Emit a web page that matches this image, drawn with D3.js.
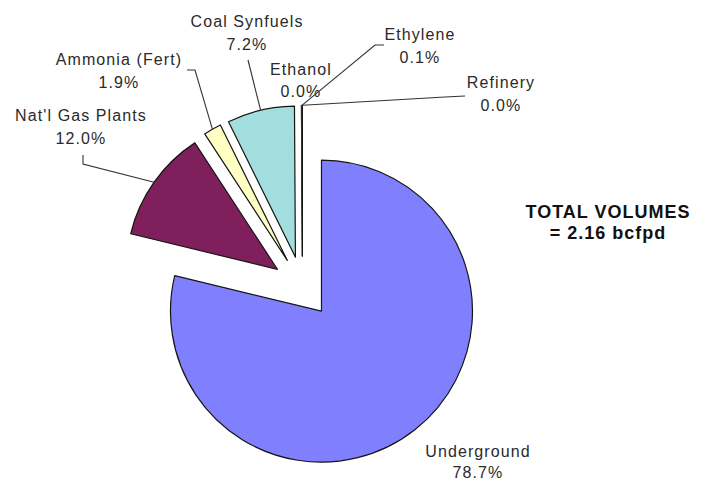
<!DOCTYPE html>
<html>
<head>
<meta charset="utf-8">
<script src="https://cdn.jsdelivr.net/npm/d3@7/dist/d3.min.js"></script>
<style>
  html, body { margin: 0; padding: 0; background: #fff; }
  svg { display: block; }
  .lbl { font-family: "Liberation Sans", Arial, sans-serif; font-size: 16px; letter-spacing: 1.1px; fill: #2a2a2a; }
  .total { font-family: "Liberation Sans", Arial, sans-serif; font-size: 18px; font-weight: bold; letter-spacing: 1px; fill: #111; }
</style>
</head>
<body>
<svg id="chart" width="704" height="481"></svg>
<script>
// Gas consumption by end use, share of total (%)
const categories = ["Underground", "Nat'l Gas Plants", "Ammonia (Fert)", "Coal Synfuels", "Ethanol", "Ethylene", "Refinery"];
const shares = [78.7, 12.0, 1.9, 7.2, 0.0, 0.1, 0.0];
const totalLines = ["TOTAL VOLUMES", "= 2.16 bcfpd"];

const sliceColors = ["#8080FF", "#7F1F5C", "#FFFFC4", "#A2DEDE", "#FFFFFF", "#FFFFFF", "#FFFFFF"];

const data = categories.map((name, i) => ({ name, v: shares[i] }));

const W = 704, H = 481;
const cx = 302.5, cy = 287, R = 151, explode = 30.7;

// label anchors (x centre, first baseline, line gap) and leader bend points
const layout = {
  "Underground":      { x: 478, y: 457, gap: 21, bends: null },
  "Nat'l Gas Plants": { x: 81,  y: 121, gap: 23, bends: [[83, 164], [83, 155]] },
  "Ammonia (Fert)":   { x: 119, y: 65,  gap: 23, bends: [[195, 70], [187, 70]] },
  "Coal Synfuels":    { x: 247, y: 27,  gap: 23, bends: [[248, 60]] },
  "Ethanol":          { x: 301, y: 75,  gap: 22, bends: null },
  "Ethylene":         { x: 420, y: 40,  gap: 23, bends: [[375, 45], [384, 45]] },
  "Refinery":         { x: 501, y: 88,  gap: 23, bends: [[445, 97], [465, 96]] }
};

const svg = d3.select("#chart");
const color = d3.scaleOrdinal().domain(categories).range(sliceColors);

const pie = d3.pie().sort(null).value(d => d.v);
const arc = d3.arc().innerRadius(0).outerRadius(R);
const arcs = pie(data);

arcs.forEach(a => {
  const m = (a.startAngle + a.endAngle) / 2;
  const dx = Math.sin(m), dy = -Math.cos(m);
  a.ox = cx + dx * explode;
  a.oy = cy + dy * explode;
  a.edge = [a.ox + dx * R, a.oy + dy * R];
});

// exploded slices
svg.append("g")
  .selectAll("path")
  .data(arcs)
  .join("path")
  .attr("transform", d => `translate(${d.ox},${d.oy})`)
  .attr("d", arc)
  .attr("fill", d => color(d.data.name))
  .attr("stroke", "#151515")
  .attr("stroke-width", d => d.data.v < 1 ? 0.8 : 1.2)
  .attr("stroke-linejoin", "round");

// leader lines
const line = d3.line();
svg.append("g")
  .selectAll("path")
  .data(arcs.filter(d => layout[d.data.name].bends))
  .join("path")
  .attr("d", d => line([d.edge, ...layout[d.data.name].bends]))
  .attr("fill", "none")
  .attr("stroke", "#333")
  .attr("stroke-width", 1.1);

// category labels with percentages
const labels = svg.append("g")
  .selectAll("text")
  .data(arcs)
  .join("text")
  .attr("class", "lbl")
  .attr("text-anchor", "middle");

labels.append("tspan")
  .attr("x", d => layout[d.data.name].x)
  .attr("y", d => layout[d.data.name].y)
  .text(d => d.data.name);

labels.append("tspan")
  .attr("x", d => layout[d.data.name].x)
  .attr("y", d => layout[d.data.name].y + layout[d.data.name].gap)
  .text(d => d.data.v.toFixed(1) + "%");

// total volume note
svg.append("text")
  .attr("class", "total")
  .attr("text-anchor", "middle")
  .selectAll("tspan")
  .data(totalLines)
  .join("tspan")
  .attr("x", 608)
  .attr("y", (d, i) => 218 + i * 21)
  .text(d => d);
</script>
</body>
</html>
